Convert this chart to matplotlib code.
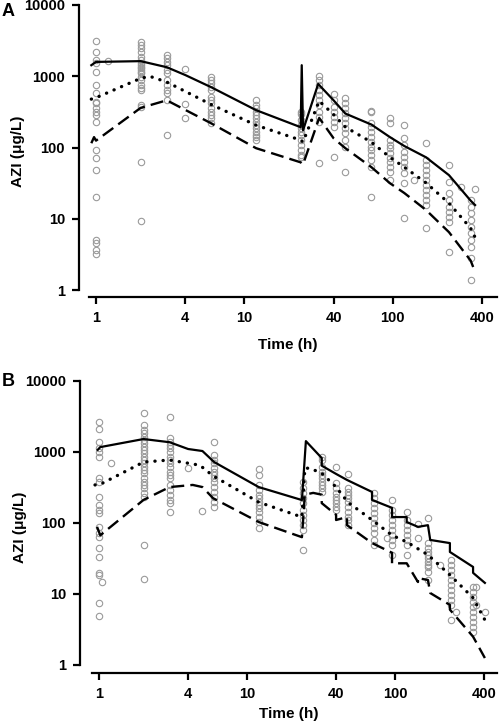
import matplotlib
matplotlib.use("Agg")
import matplotlib.pyplot as plt
from matplotlib.ticker import FixedLocator, NullLocator, FixedFormatter

plt.rcParams['font.family'] = ['Liberation Sans', 'DejaVu Sans']
plt.rcParams['font.weight'] = 'bold'

# ---- panel A: observed concentrations per sampling time ----
a_times = [1, 1.2, 2, 3, 4, 6, 12, 24, 32, 40, 48, 72, 96, 120, 168, 240, 336]
a_conc = [
    [3100, 2180, 1680, 1530, 1140, 750, 580, 433, 420, 357, 313, 285, 227,
     92, 71, 48, 20, 5.0, 4.6, 3.6, 3.2],
    [1620],
    [3020, 2730, 2480, 2180, 1860, 1680, 1530, 1430, 1340, 1300, 1220, 1140,
     1100, 970, 880, 750, 680, 640, 393, 370, 62, 9.3],
    [1980, 1790, 1590, 1430, 1220, 1100, 880, 750, 640, 580, 460, 149],
    [1250, 406, 260],
    [970, 880, 800, 700, 640, 510, 460, 420, 357, 313, 285, 260, 220],
    [460, 390, 357, 313, 285, 260, 227, 206, 186, 165, 149, 140, 127],
    [313, 300, 241, 206, 186, 165, 149, 127, 108, 92, 78, 73],
    [1000, 880, 750, 640, 540, 460, 390, 313, 265, 227, 60],
    [560, 460, 370, 313, 265, 227, 194, 73],
    [490, 420, 357, 305, 260, 218, 186, 160, 127, 101, 45],
    [324, 313, 218, 194, 165, 140, 119, 101, 92, 78, 67, 53, 20],
    [260, 218, 127, 108, 98, 83, 71, 62, 53, 45, 35],
    [206, 135, 108, 86, 73, 62, 53, 44, 31.6, 10.2],
    [115, 67, 57, 48, 41, 35, 30, 25, 21.5, 18.3, 15.6, 7.4],
    [57, 33, 23, 18.3, 14.6, 12.4, 10.6, 9.0, 3.4],
    [18.3, 14.6, 12, 9.6, 7.6, 6.3, 5.0, 4.0, 2.8, 1.4],
]
a_extra_t = [140, 290, 360]
a_extra_c = [35, 28, 26]

# panel A percentile lines (95th, median, 5th)
a_t_hi = [0.93, 1.0, 2.0, 3.0, 4.0, 6.0, 12, 24, 24.4, 24.9, 31.5, 40, 48,
          72, 96, 120, 168, 240, 336, 360]
a_hi = [1430, 1590, 1630, 1340, 1040, 700, 335, 193, 1430, 175, 780, 460,
        300, 210, 140, 105, 73, 41, 18, 15.6]
a_t_med = [0.93, 1.0, 2.0, 2.3, 3.0, 6.0, 12, 24, 24.9, 32, 40, 48, 72, 96,
           120, 168, 240, 336, 360]
a_med = [478, 500, 935, 1000, 830, 400, 206, 127, 120, 450, 290, 194, 119,
         73, 53, 32, 16.6, 7.4, 5.5]
a_t_lo = [0.93, 0.97, 1.0, 2.0, 3.0, 6.0, 12, 24, 24.9, 32, 40, 48, 72, 96,
          120, 168, 240, 336, 360]
a_lo = [115, 140, 125, 360, 460, 218, 98, 62, 58, 260, 135, 98, 53, 31.6,
        23, 13.3, 6.5, 2.6, 1.8]

# ---- panel B ----
b_times = [1, 2, 3, 6, 12, 24, 32, 40, 48, 72, 96, 120, 168, 240, 336]
b_conc = [
    [2650, 2110, 1380, 1140, 1000, 850, 430, 378, 232, 179, 152, 138, 88, 72,
     63, 44, 33, 19.8, 18.5, 7.5, 4.9],
    [3540, 2400, 2030, 1850, 1630, 1480, 1340, 1170, 1070, 970, 850, 770, 700,
     615, 560, 505, 430, 378, 343, 311, 265, 232, 49, 16.2],
    [3110, 1575, 1380, 1255, 1140, 1000, 850, 770, 700, 615, 523, 474, 430,
     343, 292, 248, 211, 191, 143],
    [1380, 910, 770, 700, 595, 523, 474, 430, 378, 320, 273, 232, 196, 168],
    [577, 474, 343, 292, 248, 223, 196, 179, 163, 143, 121, 103, 85],
    [378, 311, 265, 223, 191, 152, 130, 110, 94, 80, 41],
    [850, 770, 615, 523, 474, 430, 378, 343, 311, 273],
    [615, 365, 311, 265, 232, 211, 191, 168, 152],
    [490, 311, 273, 248, 223, 196, 168, 143, 121, 110, 94],
    [265, 223, 191, 163, 138, 118, 100, 85, 72, 57.6, 49],
    [211, 152, 130, 110, 94, 80, 68, 57.6, 49, 35.5],
    [143, 110, 94, 80, 68, 57.6, 49, 35.5],
    [118, 52, 44, 39, 35.5, 32, 28.3, 25.6, 24, 20.4, 15.7],
    [30, 25.6, 21.7, 18.5, 15.7, 13.4, 11.4, 9.7, 8.2, 7.0, 4.3],
    [12.5, 10.7, 9.1, 7.7, 6.5, 5.6, 4.7, 4.0, 3.4, 2.9],
]
b_extra_t = [1.05, 1.2, 4, 5, 88, 143, 143, 200, 260, 355, 355, 405]
b_extra_c = [14.7, 700, 595, 147, 61, 97, 61, 25.6, 5.6, 12.5, 7.0, 5.6]

b_t_hi = [0.98, 1.02, 2.0, 3.0, 4.0, 5.0, 6.0, 12, 23.5, 25, 32, 32, 40, 47.4,
          70, 70, 95.5, 95.5, 120, 120, 143, 167, 173, 235, 235, 337, 337, 405]
b_hi = [1070, 1170, 1520, 1370, 1100, 1030, 720, 320, 210, 1420, 820, 640,
        490, 403, 273, 211, 163, 121, 121, 103, 88, 93, 57.6, 52, 39, 24,
        19.8, 14.3]
b_t_med = [0.94, 1.02, 2.0, 3.0, 4.8, 5.9, 12, 23.5, 24.6, 26.6, 32, 40, 48,
           70, 95.5, 120, 167, 235, 337, 405]
b_med = [343, 350, 720, 770, 650, 460, 196, 121, 590, 590, 500, 320, 196,
         110, 67, 54, 35.5, 18.5, 8.8, 4.3]
b_t_lo = [0.97, 1.02, 2.0, 3.0, 4.3, 5.0, 5.9, 12, 23.5, 24.6, 28, 32, 32,
          40, 40, 47.4, 47.4, 70, 95.5, 95.5, 120, 143, 143, 167, 173, 235,
          235, 337, 405]
b_lo = [88, 67, 211, 320, 343, 320, 223, 103, 63, 250, 265, 250, 190, 130,
        110, 121, 93, 52, 38, 27, 27, 14.7, 16.7, 15.7, 10.3, 7, 6, 2.5, 1.25]


fig = plt.figure(figsize=(5.0, 7.23), dpi=100)


def draw_panel(rect, times, conc, ext_t, ext_c, lines, xlim, ylim, letter, ly,
               xlab_y):
    ax = fig.add_axes(rect)
    for t, vals in zip(times, conc):
        ax.plot([t] * len(vals), vals, 'o', ms=4.6, mfc='none', mec='#9a9a9a',
                mew=0.8, zorder=2)
    ax.plot(ext_t, ext_c, 'o', ms=4.6, mfc='none', mec='#9a9a9a', mew=0.8,
            zorder=2)
    (th, vh), (tm, vm), (tl, vl) = lines
    ax.plot(th, vh, '-', color='black', lw=1.6, zorder=3)
    ax.plot(tm, vm, color='black', lw=2.4, linestyle=(0, (0.05, 2.4)),
            dash_capstyle='round', zorder=3)
    ax.plot(tl, vl, color='black', lw=1.7, linestyle=(0, (5.5, 2.6)), zorder=3)
    ax.set_xscale('log')
    ax.set_yscale('log')
    ax.set_xlim(*xlim)
    ax.set_ylim(*ylim)
    ax.xaxis.set_major_locator(FixedLocator([1, 4, 10, 40, 100, 400]))
    ax.xaxis.set_major_formatter(FixedFormatter(['1', '4', '10', '40', '100', '400']))
    ax.xaxis.set_minor_locator(NullLocator())
    ax.yaxis.set_major_locator(FixedLocator([1, 10, 100, 1000, 10000]))
    ax.yaxis.set_major_formatter(FixedFormatter(['1', '10', '100', '1000', '10000']))
    ax.yaxis.set_minor_locator(NullLocator())
    for s in ['top', 'right']:
        ax.spines[s].set_visible(False)
    ax.spines['left'].set_linewidth(1.6)
    ax.spines['bottom'].set_linewidth(1.6)
    ax.spines['left'].set_bounds(1, 10000)
    ax.spines['bottom'].set_bounds(0.9, xlim[1])
    ax.tick_params(length=5, width=1.6, pad=5, labelsize=10.5)
    for lab in ax.get_xticklabels() + ax.get_yticklabels():
        lab.set_fontweight('bold')
    ax.set_xlabel('Time (h)', fontsize=11, fontweight='bold')
    ax.set_ylabel('AZI (\u03bcg/L)', fontsize=11, fontweight='bold')
    ax.xaxis.set_label_coords(0.5, xlab_y)
    ax.yaxis.set_label_coords(-0.128, 0.5)
    fig.text(0.004, ly, letter, fontsize=13, fontweight='bold', va='center')
    return ax


draw_panel([0.158, 0.5892, 0.836, 0.4039], a_times, a_conc, a_extra_t,
           a_extra_c, [(a_t_hi, a_hi), (a_t_med, a_med), (a_t_lo, a_lo)],
           (0.768, 506), (0.8, 10000), 'A', 1 - 11 / 723, -0.14)
draw_panel([0.16, 0.0692, 0.834, 0.4039], b_times, b_conc, b_extra_t,
           b_extra_c, [(b_t_hi, b_hi), (b_t_med, b_med), (b_t_lo, b_lo)],
           (0.744, 489), (0.77, 10000), 'B', 1 - 381 / 723, -0.118)

fig.savefig('out.png', dpi=100)
